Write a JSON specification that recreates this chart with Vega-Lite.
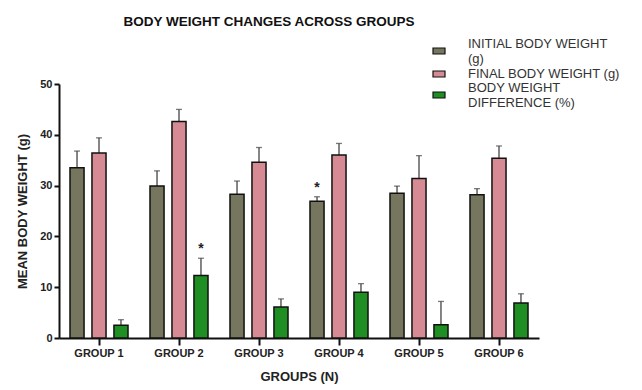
{
  "$schema": "https://vega.github.io/schema/vega-lite/v6.json",
  "autosize": {"type": "none"},
  "width": 480,
  "height": 254,
  "padding": {"left": 59, "top": 84, "right": 103, "bottom": 52},
  "background": "white",
  "title": {
    "text": "BODY WEIGHT CHANGES ACROSS GROUPS",
    "font": "Liberation Sans",
    "fontSize": 13.5,
    "fontWeight": "bold",
    "color": "#111",
    "anchor": "middle",
    "frame": "group",
    "dx": -30,
    "offset": 16
  },
  "config": {
    "view": {"stroke": null},
    "font": "Liberation Sans"
  },
  "data": {
    "values": [
      {"group": "GROUP 1", "series": "INITIAL BODY WEIGHT (g)", "mean": 33.5, "upper": 36.8, "sig": ""},
      {"group": "GROUP 1", "series": "FINAL BODY WEIGHT (g)", "mean": 36.4, "upper": 39.4, "sig": ""},
      {"group": "GROUP 1", "series": "BODY WEIGHT DIFFERENCE (%)", "mean": 2.5, "upper": 3.6, "sig": ""},
      {"group": "GROUP 2", "series": "INITIAL BODY WEIGHT (g)", "mean": 29.9, "upper": 32.9, "sig": ""},
      {"group": "GROUP 2", "series": "FINAL BODY WEIGHT (g)", "mean": 42.6, "upper": 45.0, "sig": ""},
      {"group": "GROUP 2", "series": "BODY WEIGHT DIFFERENCE (%)", "mean": 12.3, "upper": 15.7, "sig": "*"},
      {"group": "GROUP 3", "series": "INITIAL BODY WEIGHT (g)", "mean": 28.3, "upper": 30.9, "sig": ""},
      {"group": "GROUP 3", "series": "FINAL BODY WEIGHT (g)", "mean": 34.6, "upper": 37.5, "sig": ""},
      {"group": "GROUP 3", "series": "BODY WEIGHT DIFFERENCE (%)", "mean": 6.1, "upper": 7.7, "sig": ""},
      {"group": "GROUP 4", "series": "INITIAL BODY WEIGHT (g)", "mean": 26.9, "upper": 27.8, "sig": "*"},
      {"group": "GROUP 4", "series": "FINAL BODY WEIGHT (g)", "mean": 36.0, "upper": 38.3, "sig": ""},
      {"group": "GROUP 4", "series": "BODY WEIGHT DIFFERENCE (%)", "mean": 9.0, "upper": 10.7, "sig": ""},
      {"group": "GROUP 5", "series": "INITIAL BODY WEIGHT (g)", "mean": 28.5, "upper": 29.9, "sig": ""},
      {"group": "GROUP 5", "series": "FINAL BODY WEIGHT (g)", "mean": 31.4, "upper": 35.9, "sig": ""},
      {"group": "GROUP 5", "series": "BODY WEIGHT DIFFERENCE (%)", "mean": 2.6, "upper": 7.2, "sig": ""},
      {"group": "GROUP 6", "series": "INITIAL BODY WEIGHT (g)", "mean": 28.2, "upper": 29.4, "sig": ""},
      {"group": "GROUP 6", "series": "FINAL BODY WEIGHT (g)", "mean": 35.4, "upper": 37.8, "sig": ""},
      {"group": "GROUP 6", "series": "BODY WEIGHT DIFFERENCE (%)", "mean": 6.9, "upper": 8.7, "sig": ""}
    ]
  },
  "encoding": {
    "x": {
      "field": "group",
      "type": "nominal",
      "scale": {"paddingInner": 0, "paddingOuter": 0},
      "axis": {
        "title": "GROUPS (N)",
        "titleFont": "Liberation Sans",
        "titleFontSize": 13,
        "titleFontWeight": "bold",
        "titleColor": "#222",
        "titlePadding": 12,
        "labelAngle": 0,
        "labelFont": "Liberation Sans",
        "labelFontSize": 11,
        "labelFontWeight": "bold",
        "labelColor": "#222",
        "labelPadding": 2,
        "domainColor": "#111",
        "domainWidth": 2,
        "tickColor": "#111",
        "tickWidth": 2,
        "tickSize": 7,
        "grid": false
      }
    },
    "xOffset": {
      "field": "series",
      "type": "nominal",
      "sort": ["INITIAL BODY WEIGHT (g)", "FINAL BODY WEIGHT (g)", "BODY WEIGHT DIFFERENCE (%)"],
      "scale": {"paddingInner": 0.36, "paddingOuter": 0.5}
    }
  },
  "layer": [
    {
      "mark": {"type": "rule", "color": "#444", "strokeWidth": 1.3},
      "encoding": {
        "y": {"field": "mean", "type": "quantitative"},
        "y2": {"field": "upper"}
      }
    },
    {
      "mark": {"type": "tick", "color": "#444", "size": 6, "thickness": 1.3, "orient": "horizontal"},
      "encoding": {
        "y": {"field": "upper", "type": "quantitative"}
      }
    },
    {
      "mark": {"type": "bar", "stroke": "#111", "strokeWidth": 1.5},
      "encoding": {
        "y": {
          "field": "mean",
          "type": "quantitative",
          "scale": {"domain": [0, 50], "nice": false},
          "axis": {
            "title": "MEAN BODY WEIGHT (g)",
            "titleFont": "Liberation Sans",
            "titleFontSize": 13,
            "titleFontWeight": "bold",
            "titleColor": "#222",
            "titlePadding": 10,
            "values": [0, 10, 20, 30, 40, 50],
            "labelFont": "Liberation Sans",
            "labelFontSize": 11,
            "labelFontWeight": "bold",
            "labelColor": "#222",
            "labelPadding": 2,
            "domainColor": "#111",
            "domainWidth": 2,
            "tickColor": "#111",
            "tickWidth": 2,
            "tickSize": 5,
            "grid": false
          }
        },
        "color": {
          "field": "series",
          "type": "nominal",
          "scale": {
            "domain": ["INITIAL BODY WEIGHT (g)", "FINAL BODY WEIGHT (g)", "BODY WEIGHT DIFFERENCE (%)"],
            "range": ["#76765f", "#d68a93", "#1f8f24"]
          },
          "legend": {
            "title": null,
            "orient": "none",
            "legendX": 373,
            "legendY": -40,
            "symbolType": "M-1,-0.5H1V0.5H-1Z",
            "symbolSize": 144,
            "symbolStrokeColor": "#111",
            "symbolStrokeWidth": 1.2,
            "labelFont": "Liberation Sans",
            "labelFontSize": 13,
            "labelLineHeight": 14.5,
            "labelColor": "#333",
            "labelOffset": 22,
            "labelLimit": 200,
            "rowPadding": 1,
            "labelExpr": "datum.label == 'INITIAL BODY WEIGHT (g)' ? ['INITIAL BODY WEIGHT', '(g)'] : datum.label == 'BODY WEIGHT DIFFERENCE (%)' ? ['BODY WEIGHT', 'DIFFERENCE (%)'] : datum.label",
            "encoding": {
              "labels": {
                "dy": {"value": {"expr": "datum.value == 'FINAL BODY WEIGHT (g)' ? 0 : -7"}}
              }
            }
          }
        }
      }
    },
    {
      "mark": {"type": "text", "fontSize": 14, "fontWeight": "bold", "color": "#222", "dy": -2, "baseline": "bottom"},
      "encoding": {
        "y": {"field": "upper", "type": "quantitative"},
        "text": {"field": "sig"}
      }
    }
  ]
}
